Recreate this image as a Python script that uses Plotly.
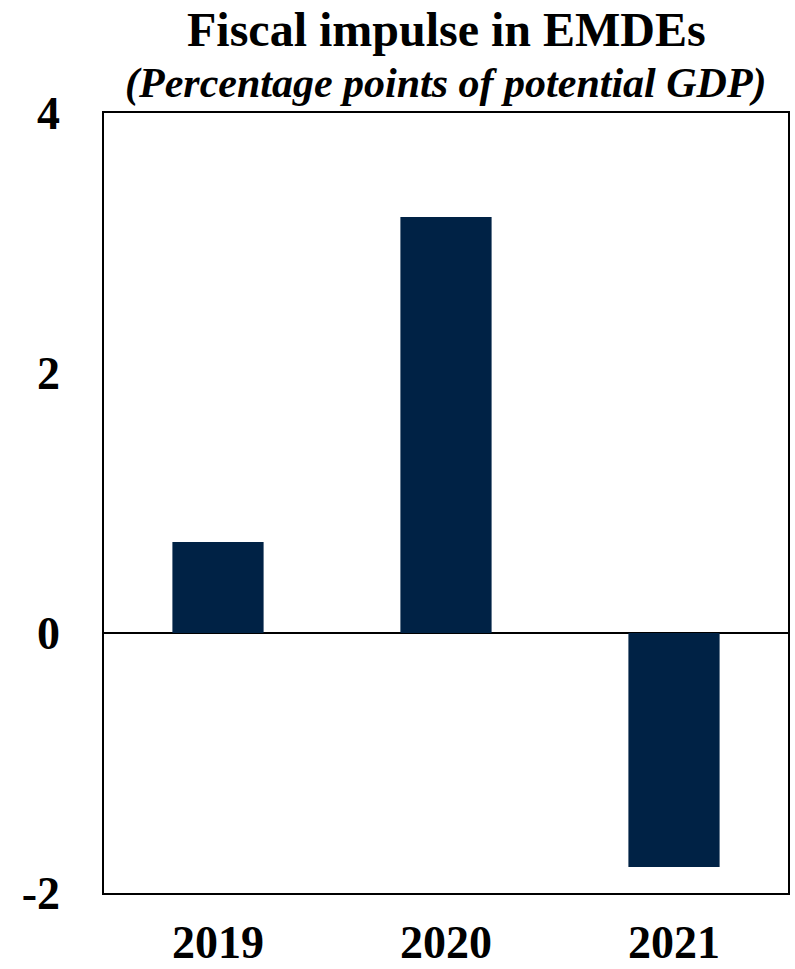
import plotly.graph_objects as go

# Fiscal impulse by year, percentage points of potential GDP
years = ["2019", "2020", "2021"]
impulse = [0.70, 3.20, -1.80]
y_ticks = [-2, 0, 2, 4]

BAR_COLOR = "#002245"
FONT = "Liberation Serif, Times New Roman, serif"

fig = go.Figure(
    go.Bar(
        x=years,
        y=impulse,
        marker=dict(color=BAR_COLOR, line=dict(width=0)),
        width=0.4,
    )
)

fig.update_layout(
    width=795,
    height=969,
    margin=dict(l=104, r=7, t=113, b=76),
    plot_bgcolor="white",
    paper_bgcolor="white",
    showlegend=False,
    font=dict(family=FONT, color="black"),
    annotations=[
        dict(
            text="<b>Fiscal impulse in EMDEs</b>",
            x=0.5, y=1.144, xref="paper", yref="paper",
            xanchor="center", yanchor="top", showarrow=False,
            font=dict(size=48, family=FONT, color="black"),
        ),
        dict(
            text="<b><i>(Percentage points of potential GDP)</i></b>",
            x=0.5, y=1.07, xref="paper", yref="paper",
            xanchor="center", yanchor="top", showarrow=False,
            font=dict(size=42, family=FONT, color="black"),
        ),
    ],
)

fig.update_xaxes(
    type="category",
    tickvals=years,
    ticktext=[f"<b>{y}</b>" for y in years],
    showline=True, linecolor="black", linewidth=1.5, mirror=True,
    ticks="", showgrid=False, automargin=False,
    tickfont=dict(size=46, family=FONT, color="black"),
    ticklabelstandoff=8,
)
fig.update_yaxes(
    range=[-2, 4],
    tickvals=y_ticks,
    ticktext=[f"<b>{v}</b>" for v in y_ticks],
    showline=True, linecolor="black", linewidth=1.5, mirror=True,
    ticks="", showgrid=False, automargin=False,
    zeroline=True, zerolinecolor="black", zerolinewidth=1.5,
    tickfont=dict(size=46, family=FONT, color="black"),
    ticklabelstandoff=33,
)

fig.write_html("out.html")
